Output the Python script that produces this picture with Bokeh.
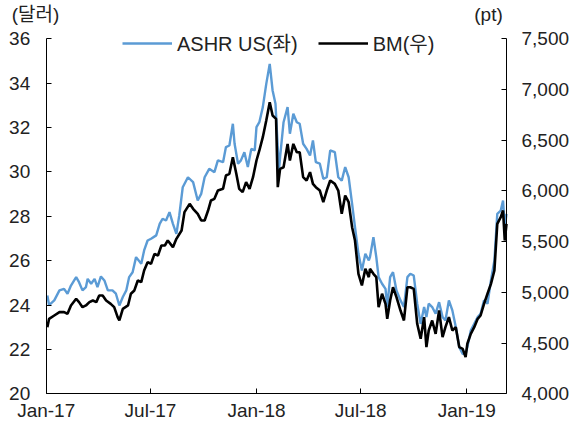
from datetime import datetime
import pandas as pd
from bokeh.plotting import figure
from bokeh.models import (Range1d, LinearAxis, DatetimeAxis, FixedTicker, DatetimeTickFormatter,
                          NumeralTickFormatter, Legend, LegendItem, Label, ColumnDataSource)
from bokeh.embed import file_html
from bokeh.resources import INLINE

# ---------------- data ----------------
ashr_dates = ["2017-01-03","2017-01-06","2017-01-15","2017-01-24","2017-02-01","2017-02-07","2017-02-13",
 "2017-02-22","2017-02-27","2017-03-05","2017-03-11","2017-03-14","2017-03-20","2017-03-26","2017-03-31",
 "2017-04-06","2017-04-12","2017-04-18","2017-04-26","2017-05-02","2017-05-08","2017-05-14","2017-05-20",
 "2017-05-25","2017-05-31","2017-06-06","2017-06-15","2017-06-20","2017-06-26","2017-07-02","2017-07-11",
 "2017-07-17","2017-07-22","2017-07-28","2017-08-03","2017-08-09","2017-08-15","2017-08-20","2017-08-26",
 "2017-09-04","2017-09-13","2017-09-21","2017-09-27","2017-10-03","2017-10-11","2017-10-20","2017-10-26",
 "2017-11-04","2017-11-09","2017-11-15","2017-11-21","2017-11-24","2017-11-30","2017-12-05","2017-12-11",
 "2017-12-17","2017-12-23","2017-12-29","2018-01-01","2018-01-06","2018-01-12","2018-01-18","2018-01-24",
 "2018-01-29","2018-02-03","2018-02-09","2018-02-11","2018-02-17","2018-02-24","2018-02-28","2018-03-06",
 "2018-03-12","2018-03-17","2018-03-23","2018-03-29","2018-04-04","2018-04-09","2018-04-14","2018-04-21",
 "2018-04-27","2018-05-03","2018-05-09","2018-05-17","2018-05-23","2018-05-29","2018-06-04","2018-06-10",
 "2018-06-16","2018-06-21","2018-06-27","2018-07-03","2018-07-09","2018-07-15","2018-07-17","2018-07-23",
 "2018-07-28","2018-08-01","2018-08-07","2018-08-13","2018-08-16","2018-08-21","2018-08-26","2018-09-01",
 "2018-09-08","2018-09-14","2018-09-20","2018-09-25","2018-10-01","2018-10-07","2018-10-13","2018-10-19",
 "2018-10-23","2018-10-27","2018-11-02","2018-11-08","2018-11-14","2018-11-20","2018-11-25","2018-12-01",
 "2018-12-07","2018-12-13","2018-12-19","2018-12-25","2018-12-30","2019-01-02","2019-01-08","2019-01-14",
 "2019-01-20","2019-01-25","2019-01-31","2019-02-06","2019-02-12","2019-02-18","2019-02-23","2019-03-01",
 "2019-03-05","2019-03-08","2019-03-11"]
ashr_values = [24.43,24.00,24.21,24.66,24.73,24.51,24.88,
 25.26,25.03,24.66,24.81,25.18,24.96,25.18,24.81,
 25.29,25.11,24.66,24.66,24.51,23.98,24.36,24.66,
 25.26,25.48,26.16,25.86,26.46,26.91,26.99,27.14,
 27.66,27.89,27.81,28.19,27.66,27.21,28.04,29.31,
 29.76,29.54,28.71,29.01,29.76,30.14,29.99,30.52,
 30.44,31.12,31.19,32.17,31.27,30.37,30.52,30.89,
 30.22,31.04,30.97,32.02,32.24,32.92,33.97,34.87,
 33.67,33.07,30.07,30.67,32.24,32.92,31.72,32.62,
 32.24,32.17,31.27,31.04,30.74,31.42,30.44,30.37,
 29.69,29.76,30.97,30.89,29.76,29.61,30.22,29.76,
 28.56,27.51,26.31,25.56,26.31,26.01,26.16,27.06,
 26.16,25.26,24.96,24.73,23.91,25.26,25.48,24.66,
 24.21,23.91,25.26,25.41,25.33,24.06,23.15,23.91,
 23.46,24.06,23.91,23.61,24.13,23.46,23.30,24.21,
 23.76,23.01,22.10,21.80,21.80,22.10,22.85,23.15,
 23.46,23.61,24.21,24.06,25.11,26.01,28.11,28.26,
 28.71,27.51,28.11]

bm_dates = ["2017-01-03","2017-01-06","2017-01-15","2017-01-24","2017-02-01","2017-02-07","2017-02-13",
 "2017-02-22","2017-02-27","2017-03-05","2017-03-11","2017-03-17","2017-03-23","2017-03-29","2017-04-03",
 "2017-04-09","2017-04-15","2017-04-23","2017-04-29","2017-05-05","2017-05-08","2017-05-14","2017-05-23",
 "2017-05-28","2017-06-03","2017-06-09","2017-06-15","2017-06-20","2017-06-26","2017-07-02","2017-07-08",
 "2017-07-14","2017-07-20","2017-07-26","2017-07-31","2017-08-09","2017-08-15","2017-08-24","2017-08-29",
 "2017-09-07","2017-09-13","2017-09-21","2017-09-27","2017-10-03","2017-10-09","2017-10-14","2017-10-20",
 "2017-10-26","2017-11-04","2017-11-09","2017-11-15","2017-11-21","2017-11-27","2017-12-02","2017-12-08",
 "2017-12-14","2017-12-20","2017-12-26","2018-01-01","2018-01-06","2018-01-12","2018-01-18","2018-01-24",
 "2018-01-29","2018-02-04","2018-02-07","2018-02-11","2018-02-17","2018-02-24","2018-02-28","2018-03-06",
 "2018-03-12","2018-03-17","2018-03-23","2018-03-29","2018-04-04","2018-04-09","2018-04-14","2018-04-21",
 "2018-04-27","2018-05-03","2018-05-09","2018-05-17","2018-05-23","2018-05-29","2018-06-04","2018-06-10",
 "2018-06-16","2018-06-21","2018-06-27","2018-07-03","2018-07-09","2018-07-15","2018-07-17","2018-07-23",
 "2018-07-28","2018-08-01","2018-08-07","2018-08-13","2018-08-16","2018-08-21","2018-08-26","2018-09-01",
 "2018-09-08","2018-09-14","2018-09-20","2018-09-25","2018-10-01","2018-10-07","2018-10-13","2018-10-19",
 "2018-10-23","2018-10-27","2018-11-02","2018-11-08","2018-11-14","2018-11-20","2018-11-25","2018-12-01",
 "2018-12-07","2018-12-13","2018-12-19","2018-12-25","2018-12-30","2019-01-02","2019-01-08","2019-01-14",
 "2019-01-20","2019-01-25","2019-01-31","2019-02-06","2019-02-12","2019-02-18","2019-02-23","2019-03-01",
 "2019-03-05","2019-03-08","2019-03-11"]
bm_values = [4657,4739,4772,4805,4805,4789,4871,
 4937,4904,4854,4871,4904,4920,4904,4969,
 4969,4920,4887,4854,4756,4723,4838,4871,
 4986,5019,5117,5101,5216,5298,5282,5380,
 5364,5462,5462,5512,5446,5528,5610,5791,
 5873,5824,5774,5709,5709,5807,5906,5922,
 6004,6021,6152,6169,6333,6169,6021,5988,
 6087,6021,6136,6300,6399,6530,6695,6875,
 6744,6711,6037,6218,6234,6464,6300,6464,
 6382,6382,6136,6103,6185,6070,6037,6004,
 5889,6004,6103,6070,6004,5774,5955,5889,
 5643,5511,5183,5068,5232,5150,5232,5183,
 5150,4854,4986,4887,4739,4920,5051,4953,
 4821,4723,5051,5051,5035,4690,4542,4756,
 4460,4624,4723,4591,4821,4558,4657,4756,
 4624,4657,4460,4443,4361,4493,4591,4657,
 4739,4772,4887,4986,5084,5216,5676,5741,
 5807,5511,5676]

x_start, x_end = "2017-01-01", "2019-03-11"
x_tick_dates = ["2017-01-01", "2017-07-01", "2018-01-01", "2018-07-01", "2019-01-01"]
left_min, left_max = 20, 36
right_min, right_max = 4000, 7500
left_ticks = [20, 22, 24, 26, 28, 30, 32, 34, 36]
right_ticks = [4000, 4500, 5000, 5500, 6000, 6500, 7000, 7500]
series_names = ["ASHR US(좌)", "BM(우)"]
unit_left, unit_right = "(달러)", "(pt)"

# ---------------- layout (pixels) ----------------
W, H = 574, 423
AX_L, AX_R, AX_T, AX_B = 45.7, 506.0, 38.3, 393.3
FONT = "Liberation Sans, Noto Sans CJK KR"
FS = "19px"

t0 = pd.Timestamp(x_start).value / 1e6
t1 = pd.Timestamp(x_end).value / 1e6
sx = (t1 - t0) / (AX_R - AX_L)
x_rng = Range1d(start=t0 - AX_L * sx, end=t0 + (W - AX_L) * sx)
sy = (left_max - left_min) / (AX_B - AX_T)
y_rng = Range1d(start=left_min - (H - AX_B) * sy, end=left_max + AX_T * sy)
sr = (right_max - right_min) / (AX_B - AX_T)
r_rng = Range1d(start=right_min - (H - AX_B) * sr, end=right_max + AX_T * sr)

p = figure(frame_width=W, frame_height=H, output_backend="svg", toolbar_location=None,
           x_axis_type=None, y_axis_type=None, x_range=x_rng, y_range=y_rng,
           min_border=0)
p.extra_y_ranges = {"bm": r_rng}
p.outline_line_color = None
p.background_fill_color = "white"
p.border_fill_color = "white"
p.grid.visible = False

src_a = ColumnDataSource(dict(x=pd.to_datetime(ashr_dates), y=ashr_values))
src_b = ColumnDataSource(dict(x=pd.to_datetime(bm_dates), y=bm_values))
ra = p.line("x", "y", source=src_a, line_color="#5B9BD5", line_width=2.4)
rb = p.line("x", "y", source=src_b, line_color="#000000", line_width=2.6, y_range_name="bm")

def style(ax):
    ax.axis_line_color = "black"
    ax.axis_line_width = 1
    ax.major_tick_in = 5
    ax.major_tick_out = 0
    ax.minor_tick_line_color = None
    ax.major_tick_line_color = "black"
    ax.major_label_text_font = FONT
    ax.major_label_text_font_size = FS
    ax.major_label_text_color = "#222222"

fmt = "%b-%y"
xa = DatetimeAxis(ticker=FixedTicker(ticks=[pd.Timestamp(d).value / 1e6 for d in x_tick_dates]),
                  formatter=DatetimeTickFormatter(microseconds=fmt, milliseconds=fmt, seconds=fmt,
                                                  minsec=fmt, minutes=fmt, hourmin=fmt, hours=fmt,
                                                  days=fmt, months=fmt, years=fmt),
                  fixed_location=left_min, bounds=(t0, t1))
style(xa)
xa.major_label_standoff = 6
p.add_layout(xa, "below")

ya = LinearAxis(ticker=FixedTicker(ticks=left_ticks), fixed_location=t0,
                bounds=(left_min, left_max))
style(ya)
ya.major_label_standoff = 16
p.add_layout(ya, "left")

yr = LinearAxis(y_range_name="bm", ticker=FixedTicker(ticks=right_ticks),
                formatter=NumeralTickFormatter(format="0,0"), fixed_location=t1,
                bounds=(right_min, right_max))
style(yr)
yr.major_label_standoff = 15
p.add_layout(yr, "right")

legend = Legend(items=[LegendItem(label=series_names[0], renderers=[ra]),
                       LegendItem(label=series_names[1], renderers=[rb])],
                location=(122, H - 57), orientation="horizontal",
                border_line_color=None, background_fill_alpha=0,
                label_text_font=FONT, label_text_font_size="20px", label_text_color="#222222",
                glyph_width=50, glyph_height=20, label_height=20, label_standoff=5,
                spacing=20, padding=0, margin=0)
p.add_layout(legend, "center")

for txt, lx in [(unit_left, 35), (unit_right, 488)]:
    p.add_layout(Label(x=lx, y=H - 14, x_units="screen", y_units="screen", text=txt,
                       text_font=FONT, text_font_size=FS, text_color="#222222",
                       text_align="center", text_baseline="middle"))

open("out.html", "w").write(file_html(p, INLINE))
